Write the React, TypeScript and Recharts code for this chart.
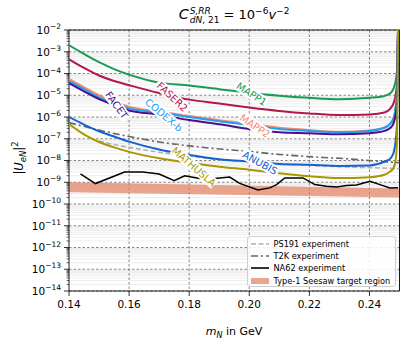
import React from "react";
import {
  ComposedChart,
  Line,
  Area,
  XAxis,
  YAxis,
  CartesianGrid,
  ReferenceArea,
  ReferenceDot,
} from "recharts";

// heavy neutral mass grid (GeV) shared by the projected sensitivity curves
const massGrid = [
  0.14, 0.145, 0.15, 0.155, 0.16, 0.17, 0.18, 0.19, 0.2, 0.21, 0.22, 0.23, 0.24,
  0.245, 0.247, 0.248, 0.2487, 0.2492, 0.2495,
];

const mapp1 = [
  2.0e-3, 7.9e-4, 3.3e-4, 1.6e-4, 8.9e-5, 3.8e-5, 2.8e-5, 1.9e-5, 1.3e-5, 9.5e-6, 7.6e-6, 6.6e-6, 7.6e-6,
  9.3e-6, 1.26e-5, 2.0e-5, 4.5e-5, 1.6e-4, 1e-2,
];
const faser2 = [
  4.5e-4, 1.8e-4, 8.1e-5, 4.5e-5, 2.9e-5, 1.26e-5, 6.3e-6, 4.2e-6, 2.75e-6, 1.9e-6, 1.45e-6, 1.23e-6, 1.32e-6,
  1.62e-6, 2.5e-6, 4.2e-6, 1e-5, 4e-5, 1e-2,
];
const mapp2 = [
  5.6e-5, 2.3e-5, 1.0e-5, 5.0e-6, 3.0e-6, 1.8e-6, 1.12e-6, 7.1e-7, 4.8e-7, 3.2e-7, 2.5e-7, 2.1e-7, 2.4e-7,
  3.3e-7, 5.2e-7, 9e-7, 2.6e-6, 1.7e-5, 1e-2,
];
const codexb = [
  4.4e-5, 1.9e-5, 7.9e-6, 4.2e-6, 2.5e-6, 1.6e-6, 1.0e-6, 6.3e-7, 4.3e-7, 2.8e-7, 2.3e-7, 2.0e-7, 2.3e-7,
  3.2e-7, 5.0e-7, 8.7e-7, 2.5e-6, 1.6e-5, 1e-2,
];
const facet = [
  3.6e-5, 1.5e-5, 6.6e-6, 3.5e-6, 2.0e-6, 1.3e-6, 7.2e-7, 4.6e-7, 2.8e-7, 2.0e-7, 1.8e-7, 1.6e-7, 1.8e-7,
  2.3e-7, 3.2e-7, 5.1e-7, 1.26e-6, 6.3e-6, 1e-2,
];
const anubis = [
  1.0e-6, 4.5e-7, 2.2e-7, 1.26e-7, 7.4e-8, 3.2e-8, 1.8e-8, 1.15e-8, 8.9e-9, 6.9e-9, 6.3e-9, 5.6e-9, 5.9e-9,
  8.9e-9, 1.26e-8, 2.2e-8, 7.4e-8, 6.3e-7, 1e-2,
];
const mathusla = [
  4.8e-7, 1.6e-7, 7.1e-8, 4.0e-8, 2.5e-8, 1.26e-8, 7.9e-9, 5.2e-9, 3.8e-9, 2.6e-9, 1.9e-9, 1.55e-9, 1.7e-9,
  2.2e-9, 3.2e-9, 4.5e-9, 1e-8, 1e-7, 1e-2,
];

// existing bounds
const t2kMass = [0.14, 0.15, 0.16, 0.17, 0.18, 0.19, 0.2, 0.21, 0.22, 0.23, 0.24, 0.25];
const t2k = [5.5e-7, 2.5e-7, 1.26e-7, 7.1e-8, 4.7e-8, 3.4e-8, 2.6e-8, 1.9e-8, 1.5e-8, 1.26e-8, 1.0e-8, 7.9e-9];

const ps191Mass = [0.15, 0.155, 0.16, 0.17, 0.18, 0.19, 0.2, 0.21, 0.22, 0.23, 0.24, 0.25];
const ps191 = [7.9e-8, 5.4e-8, 4.0e-8, 2.4e-8, 1.6e-8, 1.1e-8, 8.9e-9, 7.1e-9, 6.0e-9, 5.2e-9, 4.7e-9, 4.2e-9];

const na62Mass = [
  0.1438, 0.1488, 0.1585, 0.1645, 0.17, 0.175, 0.1785, 0.1835, 0.1868, 0.1902, 0.1935, 0.1968, 0.2029,
  0.2068, 0.2091, 0.2118, 0.2179, 0.2218, 0.2257, 0.2291, 0.2324, 0.2357, 0.2402, 0.2435, 0.2468, 0.2495,
];
const na62 = [
  2.4e-9, 8.7e-10, 2.95e-9, 2.95e-9, 2.4e-9, 1.17e-9, 2.0e-9, 1.48e-9, 1.41e-9, 1.58e-9, 1.74e-9, 8.9e-10, 4.4e-10,
  5.5e-10, 7.8e-10, 1.58e-9, 1.58e-9, 7.8e-10, 6.5e-10, 6.0e-10, 7.1e-10, 7.4e-10, 1.1e-9, 7.8e-10, 5.5e-10, 5.6e-10,
];

// type-1 seesaw band
const seesawMass = [0.14, 0.25];
const seesawLow = [3.5e-10, 2.0e-10];
const seesawHigh = [1.0e-9, 5.2e-10];

const xTicks = [0.14, 0.16, 0.18, 0.2, 0.22, 0.24];
const decades = [-14, -13, -12, -11, -10, -9, -8, -7, -6, -5, -4, -3, -2];
const majorY = decades.map((d) => Number(`1e${d}`));
const minorY = decades.slice(0, -1).flatMap((d) => [2, 3, 4, 5, 6, 7, 8, 9].map((m) => Number(`${m}e${d}`)));
const yTicks = [...majorY, ...minorY].sort((a, b) => a - b);

const rows = (xs: number[], ys: number[]) => xs.map((x, i) => ({ x, y: ys[i] }));

const series = [
  { name: "MAPP1", data: rows(massGrid, mapp1), color: "#179c52" },
  { name: "FASER2", data: rows(massGrid, faser2), color: "#b3164c" },
  { name: "MAPP2", data: rows(massGrid, mapp2), color: "#f88a6a" },
  { name: "CODEX-b", data: rows(massGrid, codexb), color: "#1e9ff2" },
  { name: "FACET", data: rows(massGrid, facet), color: "#4a0f8c" },
  { name: "ANUBIS", data: rows(massGrid, anubis), color: "#1461d1" },
  { name: "MATHUSLA", data: rows(massGrid, mathusla), color: "#a89800" },
];

const bandRows = seesawMass.map((x, i) => ({ x, range: [seesawLow[i], seesawHigh[i]] }));

// inline curve labels (data coords + rotation)
const lineLabels = [
  { text: "MAPP1", color: "#179c52", x: 0.2008, y: 1.15e-5, angle: 33 },
  { text: "FASER2", color: "#b3164c", x: 0.1744, y: 8.5e-6, angle: 43 },
  { text: "FACET", color: "#4a0f8c", x: 0.1559, y: 3.5e-6, angle: 54 },
  { text: "CODEX-b", color: "#1e9ff2", x: 0.1716, y: 1.23e-6, angle: 40 },
  { text: "MAPP2", color: "#f88a6a", x: 0.2019, y: 3.9e-7, angle: 34 },
  { text: "ANUBIS", color: "#1461d1", x: 0.2036, y: 7.9e-9, angle: 29 },
  { text: "MATHUSLA", color: "#a89800", x: 0.1816, y: 5.2e-9, angle: 41 },
];

const FONT = "'DejaVu Sans', sans-serif";

function LogTick(props: any) {
  const { x, y, payload } = props;
  const v = payload.value as number;
  const exp = Math.round(Math.log10(v));
  const major = Math.abs(v / Math.pow(10, exp) - 1) < 1e-6;
  return (
    <g>
      <line x1={x - (major ? 5 : 2.5)} x2={x} y1={y} y2={y} stroke="#000" strokeWidth={major ? 0.8 : 0.6} />
      {major && (
        <text x={x - 8} y={y + 3.8} textAnchor="end" fontSize={10.5} fill="#000" fontFamily={FONT}>
          10
          <tspan dy={-4.8} fontSize={7.5}>{`\u2212${-exp}`}</tspan>
        </text>
      )}
    </g>
  );
}

function MassTick(props: any) {
  const { x, y, payload } = props;
  return (
    <g>
      <line x1={x} x2={x} y1={y} y2={y + 5} stroke="#000" strokeWidth={0.8} />
      <text x={x} y={y + 17.3} textAnchor="middle" fontSize={10.5} fill="#000" fontFamily={FONT}>
        {(payload.value as number).toFixed(2)}
      </text>
    </g>
  );
}

function CurveLabel({ cx, cy, label }: any) {
  const fs = 10;
  const w = label.text.length * fs * 0.66 + 2;
  const h = fs + 1;
  return (
    <g transform={`translate(${cx},${cy}) rotate(${label.angle})`}>
      <rect x={-w / 2} y={-h / 2} width={w} height={h} fill="#fff" />
      <text x={0} y={fs * 0.36} textAnchor="middle" fontSize={fs} fill={label.color} fontFamily={FONT}>
        {label.text}
      </text>
    </g>
  );
}

const legendItems = [
  { label: "PS191 experiment", kind: "dash" },
  { label: "T2K experiment", kind: "dashdot" },
  { label: "NA62 experiment", kind: "solid" },
  { label: "Type-1 Seesaw target region", kind: "patch" },
];

function LegendSwatch({ kind }: { kind: string }) {
  if (kind === "patch")
    return (
      <svg width={18} height={8}>
        <rect x={0} y={1} width={18} height={6} fill="#e27d5e" fillOpacity={0.7} />
      </svg>
    );
  const stroke = kind === "dash" ? "#b0b0b0" : kind === "dashdot" ? "#666" : "#000";
  const dash = kind === "dash" ? "5 2.5" : kind === "dashdot" ? "7 3 2 3" : undefined;
  return (
    <svg width={18} height={8}>
      <line x1={0} x2={18} y1={4} y2={4} stroke={stroke} strokeWidth={1.6} strokeDasharray={dash} />
    </svg>
  );
}

export default function App() {
  return (
    <div style={{ position: "absolute", left: 0, top: 0, width: 408, height: 349, fontFamily: FONT, background: "#fff" }}>
      <ComposedChart width={408} height={349} margin={{ top: 30, right: 8.5, bottom: 0, left: 0 }}>
        <CartesianGrid horizontalValues={minorY} vertical={false} stroke="#e0e0e0" strokeWidth={0.6} />
        <CartesianGrid
          horizontalValues={majorY}
          verticalValues={xTicks.slice(1)}
          stroke="#555"
          strokeWidth={0.7}
          strokeDasharray="2.5 2"
        />
        <XAxis
          dataKey="x"
          type="number"
          domain={[0.14, 0.25]}
          ticks={xTicks}
          allowDataOverflow
          interval={0}
          height={58}
          tickSize={0}
          tickMargin={0}
          axisLine={false}
          tickLine={false}
          tick={(p: any) => <MassTick {...p} />}
        />
        <YAxis
          type="number"
          scale="log"
          domain={[1e-14, 1e-2]}
          ticks={yTicks}
          allowDataOverflow
          interval={0}
          width={69}
          tickSize={0}
          tickMargin={0}
          axisLine={false}
          tickLine={false}
          tick={(p: any) => <LogTick {...p} />}
        />
        <Area
          data={bandRows}
          dataKey="range"
          type="linear"
          fill="#e27d5e"
          fillOpacity={0.7}
          stroke="none"
          isAnimationActive={false}
        />
        <Line
          data={rows(ps191Mass, ps191)}
          dataKey="y"
          type="monotone"
          stroke="#b0b0b0"
          strokeWidth={1.6}
          strokeDasharray="5 2.5"
          dot={false}
          isAnimationActive={false}
        />
        <Line
          data={rows(t2kMass, t2k)}
          dataKey="y"
          type="monotone"
          stroke="#666"
          strokeWidth={1.6}
          strokeDasharray="7 3 2 3"
          dot={false}
          isAnimationActive={false}
        />
        <Line
          data={rows(na62Mass, na62)}
          dataKey="y"
          type="linear"
          stroke="#000"
          strokeWidth={1.5}
          dot={false}
          isAnimationActive={false}
        />
        {series.map((s) => (
          <Line
            key={s.name}
            data={s.data}
            dataKey="y"
            name={s.name}
            type="monotone"
            stroke={s.color}
            strokeWidth={2}
            dot={false}
            isAnimationActive={false}
          />
        ))}
        {lineLabels.map((l) => (
          <ReferenceDot
            key={l.text}
            x={l.x}
            y={l.y}
            r={0}
            ifOverflow="visible"
            shape={(p: any) => <CurveLabel {...p} label={l} />}
          />
        ))}
        <ReferenceArea
          x1={0.14}
          x2={0.25}
          y1={1e-14}
          y2={1e-2}
          ifOverflow="visible"
          fill="none"
          stroke="#000"
          strokeWidth={0.9}
        />
      </ComposedChart>

      {/* title */}
      <div
        style={{
          position: "absolute",
          left: 234,
          top: 3,
          transform: "translateX(-50%)",
          fontSize: 13,
          lineHeight: "22px",
          whiteSpace: "nowrap",
          color: "#000",
        }}
      >
        <span style={{ fontStyle: "italic", fontSize: 14.5 }}>C</span>
        <span
          style={{
            display: "inline-block",
            verticalAlign: "-4px",
            fontSize: 9,
            lineHeight: "9px",
            marginLeft: 1,
          }}
        >
          <span style={{ display: "block", fontStyle: "italic" }}>S,RR</span>
          <span style={{ display: "block" }}>
            <i>dN</i>, 21
          </span>
        </span>
        <span> = 10</span>
        <span style={{ fontSize: 9, verticalAlign: "5px", lineHeight: 0 }}>−6</span>
        <i>v</i>
        <span style={{ fontSize: 9, verticalAlign: "5px", lineHeight: 0 }}>−2</span>
      </div>

      {/* y label */}
      <div
        style={{
          position: "absolute",
          left: 19,
          top: 158,
          transform: "translate(-50%, -50%) rotate(-90deg)",
          fontSize: 11.5,
          lineHeight: "14px",
          whiteSpace: "nowrap",
        }}
      >
        |<i>U</i>
        <span style={{ fontSize: 8.5, verticalAlign: "-3px", lineHeight: 0 }}>
          <i>eN</i>
        </span>
        |<span style={{ fontSize: 8.5, verticalAlign: "5px", lineHeight: 0 }}>2</span>
      </div>

      {/* x label */}
      <div
        style={{
          position: "absolute",
          left: 234,
          top: 325,
          transform: "translateX(-50%)",
          fontSize: 11,
          lineHeight: "14px",
          whiteSpace: "nowrap",
        }}
      >
        <i>m</i>
        <span style={{ fontSize: 8, verticalAlign: "-3px", lineHeight: 0 }}>
          <i>N</i>
        </span>{" "}
        in GeV
      </div>

      {/* legend */}
      <div
        style={{
          position: "absolute",
          left: 247,
          top: 236,
          width: 149,
          height: 51,
          border: "1px solid #cfcfcf",
          borderRadius: 3,
          background: "rgba(255,255,255,0.85)",
          fontSize: 8.2,
          boxSizing: "border-box",
          paddingTop: 0.5,
        }}
      >
        {legendItems.map((it) => (
          <div key={it.label} style={{ display: "flex", alignItems: "center", height: 12.3, paddingLeft: 2.5 }}>
            <LegendSwatch kind={it.kind} />
            <span style={{ marginLeft: 5, whiteSpace: "nowrap" }}>{it.label}</span>
          </div>
        ))}
      </div>
    </div>
  );
}
